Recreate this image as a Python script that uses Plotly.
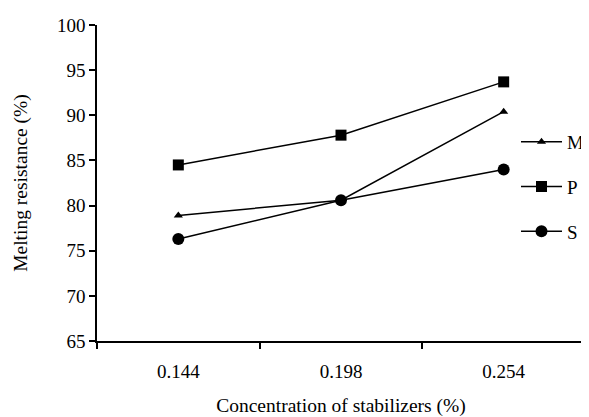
import plotly.graph_objects as go

categories = ["0.144", "0.198", "0.254"]
series_names = ["M", "P", "S"]
m_values = [78.9, 80.6, 90.4]
p_values = [84.5, 87.8, 93.7]
s_values = [76.3, 80.6, 84.0]

symbols = {"M": "triangle-up", "P": "square", "S": "circle"}
sizes = {"M": 8, "P": 11, "S": 12}
values = {"M": m_values, "P": p_values, "S": s_values}

fig = go.Figure()
for i, name in enumerate(series_names):
    fig.add_trace(go.Scatter(
        x=categories, y=values[name], name=name, mode="lines+markers",
        legendgroup=name,
        line=dict(color="black", width=1.5),
        marker=dict(symbol=symbols[name], size=sizes[name], color="black"),
    ))

font = "Liberation Serif, Times New Roman, serif"
fig.update_layout(
    width=600, height=409,
    margin=dict(l=89, r=23, t=17, b=76),
    paper_bgcolor="white", plot_bgcolor="white",
    font=dict(family=font, size=19, color="black"),
    showlegend=True,
    legend=dict(x=0.8586, y=0.69, xanchor="left", yanchor="top",
                bgcolor="rgba(0,0,0,0)", font=dict(size=19, family=font),
                traceorder="grouped", tracegroupgap=17, itemwidth=41),
)
fig.update_xaxes(
    type="category", tickson="boundaries", ticks="outside", ticklen=6,
    tickwidth=1.5, tickcolor="black", automargin=False,
    showline=True, linecolor="black", linewidth=1.5, showgrid=False,
    zeroline=False, range=[-0.5, 2.5], ticklabelstandoff=12,
    title=dict(text="Concentration of stabilizers (%)", font=dict(size=19.5), standoff=26),
    tickfont=dict(size=19),
)
fig.update_yaxes(
    range=[65, 100], dtick=5, ticks="outside", ticklen=6, tickwidth=1.5,
    tickcolor="black", showline=True, linecolor="black", linewidth=1.5,
    showgrid=False, zeroline=False, automargin=False,
    title=dict(text="Melting resistance (%)", font=dict(size=19.5), standoff=24),
    tickfont=dict(size=19),
)

fig.write_html("out.html")
